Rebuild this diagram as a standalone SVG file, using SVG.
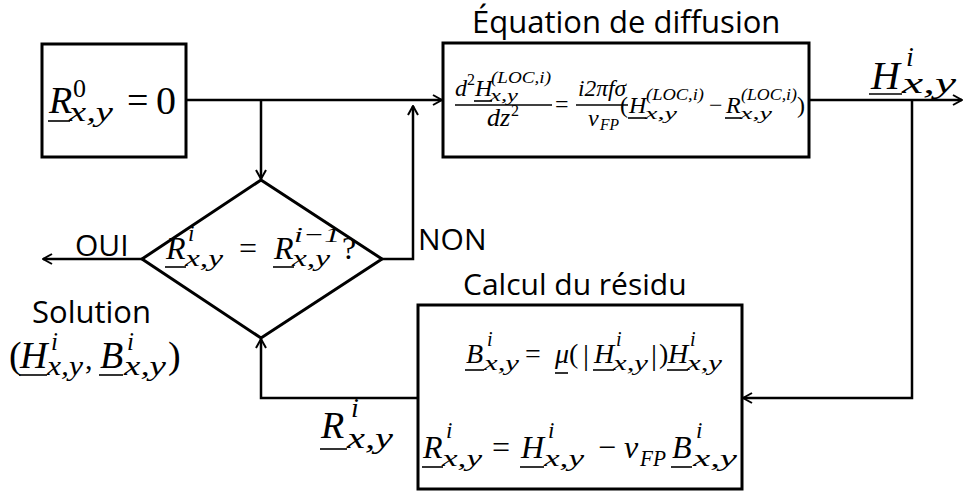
<svg xmlns="http://www.w3.org/2000/svg" width="964" height="495" viewBox="0 0 964 495">
<style>
.box{fill:#fff;stroke:#000;stroke-width:3}
.ln{fill:none;stroke:#000;stroke-width:2.5}
.ul{stroke:#000;stroke-width:1.6}
.lbl{font-family:"Open Sans",sans-serif;fill:#000}
.mi{font-family:"Liberation Serif",serif;font-style:italic;fill:#000}
.mu{font-family:"Liberation Serif",serif;fill:#000}
</style>
<defs>
<marker id="ah" viewBox="0 0 12 12" refX="11" refY="6" markerWidth="12" markerHeight="12" markerUnits="userSpaceOnUse" orient="auto">
<path d="M2,1 L11,6 L2,11" fill="none" stroke="#000" stroke-width="2"/>
</marker>
</defs>
<rect width="964" height="495" fill="#fff"/>
<g id="connectors" class="ln">
<path d="M186,100 H442" marker-end="url(#ah)"/>
<path d="M261,100 V179" marker-end="url(#ah)"/>
<path d="M382,259 H413 V106" marker-end="url(#ah)"/>
<path d="M142,259 H43" marker-end="url(#ah)"/>
<path d="M809,100 H962" marker-end="url(#ah)"/>
<path d="M912,100 V398 H743" marker-end="url(#ah)"/>
<path d="M418,398 H261 V339" marker-end="url(#ah)"/>
</g>
<g id="init">
<rect class="box" x="42" y="44" width="144" height="113"/>
<text class="mi" x="49" y="113" font-size="38">R</text>
<text class="mu" x="73" y="97" font-size="26">0</text>
<text class="mi" x="69" y="121" font-size="28" textLength="44" lengthAdjust="spacingAndGlyphs">x,y</text>
<line class="ul" x1="48" y1="121" x2="70" y2="121"/>
<text class="mu" x="127" y="113" font-size="38">=</text>
<text class="mu" x="156" y="114" font-size="40">0</text>
</g>
<g id="diffusion">
<text class="lbl" x="472" y="33" font-size="31">Équation de diffusion</text>
<rect class="box" x="443" y="43" width="366" height="114"/>
<text class="mi" x="455" y="96" font-size="24">d</text>
<text class="mu" x="467" y="85" font-size="16">2</text>
<text class="mi" x="475" y="96" font-size="24">H</text>
<line class="ul" x1="474" y1="101" x2="492" y2="101"/>
<text class="mi" x="491" y="83" font-size="17" textLength="60" lengthAdjust="spacingAndGlyphs">(LOC,i)</text>
<text class="mi" x="490" y="101" font-size="17" textLength="28" lengthAdjust="spacingAndGlyphs">x,y</text>
<line class="ul" x1="455" y1="105" x2="552" y2="105"/>
<text class="mi" x="487" y="126" font-size="26">dz</text>
<text class="mu" x="511" y="116" font-size="16">2</text>
<text class="mu" x="555" y="112" font-size="24">=</text>
<text class="mi" x="578" y="96" font-size="24" textLength="48" lengthAdjust="spacingAndGlyphs">i2πfσ</text>
<line class="ul" x1="576" y1="105" x2="628" y2="105"/>
<text class="mi" x="588" y="126" font-size="24">ν</text>
<text class="mi" x="600" y="130" font-size="16" textLength="19" lengthAdjust="spacingAndGlyphs">FP</text>
<text class="mu" x="620" y="113" font-size="24">(</text>
<text class="mi" x="629" y="113" font-size="24">H</text>
<line class="ul" x1="628" y1="118" x2="646" y2="118"/>
<text class="mi" x="646" y="100" font-size="17" textLength="58" lengthAdjust="spacingAndGlyphs">(LOC,i)</text>
<text class="mi" x="645" y="119" font-size="17" textLength="32" lengthAdjust="spacingAndGlyphs">x,y</text>
<text class="mu" x="709" y="113" font-size="24">−</text>
<text class="mi" x="726" y="113" font-size="24">R</text>
<line class="ul" x1="725" y1="118" x2="741" y2="118"/>
<text class="mi" x="741" y="100" font-size="17" textLength="56" lengthAdjust="spacingAndGlyphs">(LOC,i)</text>
<text class="mi" x="740" y="119" font-size="17" textLength="32" lengthAdjust="spacingAndGlyphs">x,y</text>
<text class="mu" x="797" y="113" font-size="24">)</text>
</g>
<g id="output-label">
<text class="mi" x="871" y="89" font-size="40">H</text>
<line class="ul" x1="869" y1="94" x2="902" y2="94"/>
<text class="mi" x="906" y="66" font-size="28">i</text>
<text class="mi" x="902" y="93" font-size="30" textLength="54" lengthAdjust="spacingAndGlyphs">x,y</text>
</g>
<g id="test">
<polygon class="box" points="261,180 382,259 261,338 142,259"/>
<text class="mi" x="166" y="259" font-size="32">R</text>
<line class="ul" x1="165" y1="267" x2="186" y2="267"/>
<text class="mi" x="188" y="241" font-size="23">i</text>
<text class="mi" x="185" y="266" font-size="24" textLength="38" lengthAdjust="spacingAndGlyphs">x,y</text>
<text class="mu" x="239" y="259" font-size="32">=</text>
<text class="mi" x="274" y="259" font-size="32">R</text>
<line class="ul" x1="273" y1="267" x2="294" y2="267"/>
<text class="mi" x="294" y="242" font-size="22" textLength="46" lengthAdjust="spacingAndGlyphs">i−1</text>
<text class="mi" x="292" y="266" font-size="24" textLength="38" lengthAdjust="spacingAndGlyphs">x,y</text>
<text class="mu" x="342" y="259" font-size="32">?</text>
</g>
<g id="oui-label">
<text class="lbl" x="75" y="256" font-size="30">OUI</text>
</g>
<g id="non-label">
<text class="lbl" x="418" y="250" font-size="30">NON</text>
</g>
<g id="solution">
<text class="lbl" x="32" y="323" font-size="31">Solution</text>
<text class="mu" x="9" y="368" font-size="38">(</text>
<text class="mi" x="20" y="368" font-size="38">H</text>
<line class="ul" x1="19" y1="375" x2="47" y2="375"/>
<text class="mi" x="51" y="350" font-size="25">i</text>
<text class="mi" x="47" y="375" font-size="27" textLength="36" lengthAdjust="spacingAndGlyphs">x,y</text>
<text class="mu" x="85" y="369" font-size="30">,</text>
<text class="mi" x="100" y="368" font-size="38">B</text>
<line class="ul" x1="99" y1="375" x2="123" y2="375"/>
<text class="mi" x="127" y="350" font-size="25">i</text>
<text class="mi" x="124" y="375" font-size="27" textLength="42" lengthAdjust="spacingAndGlyphs">x,y</text>
<text class="mu" x="168" y="368" font-size="38">)</text>
</g>
<g id="residu">
<text class="lbl" x="463" y="295" font-size="30">Calcul du résidu</text>
<rect class="box" x="418" y="305" width="324" height="184"/>
<text class="mi" x="466" y="363" font-size="28">B</text>
<line class="ul" x1="465" y1="370" x2="484" y2="370"/>
<text class="mi" x="487" y="346" font-size="20">i</text>
<text class="mi" x="484" y="370" font-size="21" textLength="35" lengthAdjust="spacingAndGlyphs">x,y</text>
<text class="mu" x="525" y="363" font-size="28">=</text>
<text class="mi" x="555" y="363" font-size="28">μ</text>
<line class="ul" x1="555" y1="373" x2="568" y2="373"/>
<text class="mu" x="569" y="363" font-size="28">(</text>
<text class="mu" x="583" y="365" font-size="30">|</text>
<text class="mi" x="594" y="363" font-size="28">H</text>
<line class="ul" x1="593" y1="370" x2="614" y2="370"/>
<text class="mi" x="616" y="346" font-size="20">i</text>
<text class="mi" x="613" y="370" font-size="21" textLength="35" lengthAdjust="spacingAndGlyphs">x,y</text>
<text class="mu" x="651" y="365" font-size="30">|</text>
<text class="mu" x="659" y="363" font-size="28">)</text>
<text class="mi" x="668" y="363" font-size="28">H</text>
<line class="ul" x1="667" y1="370" x2="688" y2="370"/>
<text class="mi" x="690" y="346" font-size="20">i</text>
<text class="mi" x="687" y="370" font-size="21" textLength="35" lengthAdjust="spacingAndGlyphs">x,y</text>
<text class="mi" x="423" y="458" font-size="32">R</text>
<line class="ul" x1="422" y1="467" x2="443" y2="467"/>
<text class="mi" x="446" y="438" font-size="23">i</text>
<text class="mi" x="442" y="466" font-size="24" textLength="40" lengthAdjust="spacingAndGlyphs">x,y</text>
<text class="mu" x="492" y="458" font-size="32">=</text>
<text class="mi" x="521" y="458" font-size="32">H</text>
<line class="ul" x1="520" y1="467" x2="544" y2="467"/>
<text class="mi" x="548" y="438" font-size="23">i</text>
<text class="mi" x="544" y="466" font-size="24" textLength="40" lengthAdjust="spacingAndGlyphs">x,y</text>
<text class="mu" x="598" y="458" font-size="32">−</text>
<text class="mi" x="624" y="458" font-size="32">ν</text>
<text class="mi" x="640" y="466" font-size="24" textLength="26" lengthAdjust="spacingAndGlyphs">FP</text>
<text class="mi" x="672" y="458" font-size="32">B</text>
<line class="ul" x1="671" y1="467" x2="692" y2="467"/>
<text class="mi" x="696" y="438" font-size="23">i</text>
<text class="mi" x="693" y="466" font-size="24" textLength="44" lengthAdjust="spacingAndGlyphs">x,y</text>
</g>
<g id="residual-label">
<text class="mi" x="321" y="438" font-size="38">R</text>
<line class="ul" x1="320" y1="449" x2="347" y2="449"/>
<text class="mi" x="351" y="417" font-size="28">i</text>
<text class="mi" x="347" y="448" font-size="30" textLength="46" lengthAdjust="spacingAndGlyphs">x,y</text>
</g>
</svg>
